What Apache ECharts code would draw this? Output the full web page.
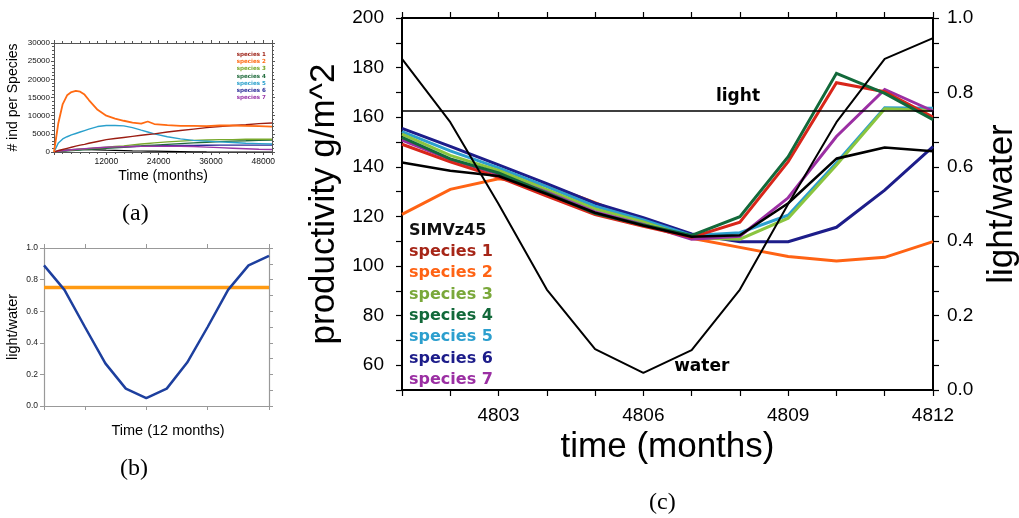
<!DOCTYPE html>
<html>
<head>
<meta charset="utf-8">
<script src="https://cdn.jsdelivr.net/npm/echarts@6/dist/echarts.min.js"></script>
<style>
  html, body { margin: 0; padding: 0; background: #fff; }
  #chart { width: 1019px; height: 518px; }
</style>
</head>
<body>
<div id="chart"></div>
<script>
// ---------- (a) population per species over the long run ----------
const monthsA = [0, 1000, 2000, 3000, 4000, 5000, 6000, 7000, 8000, 10000, 12000, 14000, 16000,
  18000, 20000, 21500, 23000, 26000, 29000, 32000, 35000, 38000, 41000, 44000, 47000, 50000];
const popSpecies1 = [0, 400, 700, 1000, 1300, 1600, 1900, 2100, 2400, 2900, 3400, 3700, 4000,
  4300, 4600, 4800, 5000, 5500, 5900, 6300, 6700, 7000, 7300, 7500, 7800, 8000];
const popSpecies2 = [0, 8000, 13200, 15600, 16500, 16800, 16600, 15800, 14300, 11600, 10000, 9200, 8600,
  8100, 7800, 8400, 7700, 7400, 7200, 7200, 7100, 7300, 7300, 7200, 7100, 7000];
const popSpecies3 = [0, 150, 300, 450, 550, 650, 750, 850, 950, 1100, 1300, 1500, 1700,
  1950, 2200, 2350, 2500, 2800, 3000, 3200, 3300, 3400, 3400, 3500, 3500, 3500];
const popSpecies4 = [0, 100, 200, 300, 400, 500, 550, 650, 700, 850, 1000, 1150, 1300,
  1500, 1650, 1800, 1900, 2100, 2300, 2500, 2700, 2850, 3000, 3100, 3250, 3300];
const popSpecies5 = [0, 2500, 3600, 4200, 4700, 5100, 5500, 5900, 6300, 7000, 7300, 7300, 7200,
  6700, 6000, 5500, 5000, 4200, 3600, 3200, 3000, 2800, 2600, 2400, 2300, 2200];
const popSpecies6 = [0, 150, 300, 400, 500, 600, 700, 800, 850, 1050, 1200, 1300, 1400,
  1500, 1600, 1650, 1700, 1750, 1800, 1800, 1850, 1900, 1900, 1900, 1900, 1900];
const popSpecies7 = [0, 200, 350, 500, 600, 700, 800, 900, 1000, 1150, 1300, 1400, 1450,
  1500, 1550, 1600, 1600, 1600, 1600, 1500, 1350, 1200, 1050, 900, 750, 700];
const popOther = [0, 300, 450, 550, 650, 700, 700, 680, 650, 580, 500, 450, 400,
  330, 280, 250, 220, 160, 110, 60, 20, 0, 0, 0, 0, 0];

// ---------- (b) yearly forcing ----------
const monthsB = [4801, 4802, 4803, 4804, 4805, 4806, 4807, 4808, 4809, 4810, 4811, 4812];
const waterB = [0.89, 0.735, 0.50, 0.27, 0.11, 0.05, 0.11, 0.275, 0.50, 0.735, 0.89, 0.95];
const lightB = [0.75, 0.75, 0.75, 0.75, 0.75, 0.75, 0.75, 0.75, 0.75, 0.75, 0.75, 0.75];

// ---------- (c) productivity over one year ----------
const monthsC = [4801, 4802, 4803, 4804, 4805, 4806, 4807, 4808, 4809, 4810, 4811, 4812];
const prodSIMV = [141.7, 138.4, 136.3, 129.0, 121.5, 116.3, 111.8, 112.4, 125.3, 143.3, 147.8, 146.3];
const prodSpecies1 = [149.1, 142.0, 135.8, 128.2, 120.7, 116.0, 111.6, 117.7, 142.1, 173.9, 170.3, 160.0];
const prodSpecies2 = [120.8, 130.9, 135.2, 132.7, 125.5, 117.6, 111.2, 107.5, 103.8, 102.0, 103.5, 109.8];
const prodSpecies3 = [153.2, 144.6, 138.5, 130.8, 123.0, 117.8, 111.3, 110.8, 119.3, 140.7, 163.4, 162.8];
const prodSpecies4 = [151.9, 143.2, 137.5, 129.4, 121.2, 116.5, 112.3, 119.9, 144.1, 177.7, 169.6, 159.0];
const prodSpecies5 = [154.2, 146.4, 139.6, 132.0, 124.1, 118.6, 112.3, 113.4, 120.5, 141.6, 163.8, 163.6];
const prodSpecies6 = [155.5, 148.2, 140.8, 133.2, 125.3, 119.5, 112.9, 109.8, 109.8, 115.6, 130.6, 148.1];
const prodSpecies7 = [150.8, 143.0, 137.0, 129.8, 121.8, 116.8, 110.8, 112.0, 127.5, 152.2, 171.2, 162.5];
const waterC = [0.89, 0.72, 0.50, 0.27, 0.11, 0.046, 0.107, 0.27, 0.50, 0.72, 0.89, 0.946];
const lightC = [0.75, 0.75, 0.75, 0.75, 0.75, 0.75, 0.75, 0.75, 0.75, 0.75, 0.75, 0.75];

const speciesNames = ['species 1', 'species 2', 'species 3', 'species 4', 'species 5', 'species 6', 'species 7'];
const colorsA = ['#9b1d12', '#ff6a12', '#78a82c', '#1f6b3b', '#2aa0cc', '#2b2b98', '#9a36a8'];
const colorsC = ['#d8261a', '#ff6314', '#8bc53f', '#12693a', '#2c9fce', '#1d1d8a', '#9b2fa3'];
const legendColorsC = ['#a62618', '#ff6314', '#7aa83a', '#12693a', '#2c9fce', '#1d1d8a', '#9b2fa3'];

const zip = (xs, ys) => xs.map((x, i) => [x, ys[i]]);
const SANS = 'Liberation Sans';
const LEGEND_FONT = 'DejaVu Sans';

const chart = echarts.init(document.getElementById('chart'), null, { renderer: 'canvas' });

// frame helper: a bottom/left axis plus matching top/right tick-only axes
function frameAxis(base, extra) {
  return Object.assign({}, base, extra);
}

const greyA = '#555';
const greyB = '#999';

const xBaseA = { type: 'value', gridIndex: 0, min: 0, max: 50000, interval: 12000, splitLine: { show: false },
  axisLine: { onZero: false, lineStyle: { color: greyA, width: 1 } },
  axisTick: { show: true, length: 3, lineStyle: { color: greyA } },
  minorTick: { show: true, splitNumber: 6, length: 2, lineStyle: { color: greyA } } };
const yBaseA = { type: 'value', gridIndex: 0, min: 0, max: 30000, interval: 5000, splitLine: { show: false },
  axisLine: { onZero: false, lineStyle: { color: greyA, width: 1 } },
  axisTick: { show: true, length: 3, lineStyle: { color: greyA } },
  minorTick: { show: true, splitNumber: 5, length: 2, lineStyle: { color: greyA } } };

const xBaseB = { type: 'value', gridIndex: 1, min: 4801, max: 4812, splitLine: { show: false },
  axisLine: { onZero: false, lineStyle: { color: greyB, width: 1.2 } },
  axisTick: { show: true, length: 4, customValues: [4801, 4803, 4806, 4809, 4812], lineStyle: { color: greyB } },
  axisLabel: { show: false } };
const yBaseB = { type: 'value', gridIndex: 1, min: 0, max: 1, interval: 0.2, splitLine: { show: false },
  axisLine: { onZero: false, lineStyle: { color: greyB, width: 1.2 } },
  axisTick: { show: true, length: 4, lineStyle: { color: greyB } } };

const xBaseC = { type: 'value', gridIndex: 2, min: 4801, max: 4812, interval: 1, splitLine: { show: false },
  axisLine: { onZero: false, lineStyle: { color: '#000', width: 2 } },
  axisTick: { show: true, length: 6, lineStyle: { color: '#000', width: 1.2 } } };

const option = {
  animation: false,
  backgroundColor: '#fff',
  textStyle: { fontFamily: SANS },
  grid: [
    { left: 54, top: 43, width: 218, height: 109, outerBoundsMode: 'none' },
    { left: 44, top: 248, width: 225, height: 158, outerBoundsMode: 'none' },
    { left: 402, top: 18, width: 531, height: 372, outerBoundsMode: 'none' }
  ],
  xAxis: [
    frameAxis(xBaseA, {
      position: 'bottom',
      axisLabel: { fontSize: 8.5, color: '#111', margin: 5,
        formatter: v => (v > 0 && v <= 48000) ? String(v) : '' },
      name: 'Time (months)', nameLocation: 'middle', nameGap: 17,
      nameTextStyle: { fontSize: 14, color: '#000' }
    }),
    frameAxis(xBaseA, { position: 'top', axisLabel: { show: false } }),
    frameAxis(xBaseB, {
      position: 'bottom',
      name: 'Time (12 months)', nameLocation: 'middle', nameGap: 17,
      nameTextStyle: { fontSize: 14.5, color: '#000', padding: [0, 0, 0, 23] }
    }),
    frameAxis(xBaseB, { position: 'top' }),
    frameAxis(xBaseC, {
      position: 'bottom',
      axisLabel: { fontSize: 19, color: '#000', margin: 16,
        formatter: v => (v % 3 === 0) ? String(v) : '' },
      name: 'time (months)', nameLocation: 'middle', nameGap: 40,
      nameTextStyle: { fontSize: 35, color: '#000' }
    }),
    frameAxis(xBaseC, { position: 'top', axisLabel: { show: false } })
  ],
  yAxis: [
    frameAxis(yBaseA, {
      position: 'left',
      axisLabel: { fontSize: 8, color: '#111', margin: 4, formatter: v => String(v) },
      name: '# ind per Species', nameLocation: 'middle', nameGap: 34, nameRotate: 90,
      nameTextStyle: { fontSize: 14, color: '#000' }
    }),
    frameAxis(yBaseA, { position: 'right', axisLabel: { show: false } }),
    frameAxis(yBaseB, {
      position: 'left',
      axisLabel: { fontSize: 8.5, color: '#222', margin: 6, formatter: v => v.toFixed(1) },
      name: 'light/water', nameLocation: 'middle', nameGap: 24, nameRotate: 90,
      nameTextStyle: { fontSize: 14.5, color: '#000' }
    }),
    frameAxis(yBaseB, { position: 'right', axisLabel: { show: false },
      minorTick: { show: true, splitNumber: 2, length: 4, lineStyle: { color: greyB } } }),
    {
      type: 'value', gridIndex: 2, position: 'left', min: 50, max: 200, interval: 10,
      splitLine: { show: false },
      axisLine: { onZero: false, lineStyle: { color: '#000', width: 2 } },
      axisTick: { show: true, length: 6, lineStyle: { color: '#000', width: 1.2 } },
      axisLabel: { fontSize: 19, color: '#000', margin: 18,
        formatter: v => (v % 20 === 0 && v > 50) ? String(v) : '' },
      name: 'productivity g/m^2', nameLocation: 'middle', nameGap: 37, nameRotate: 90,
      nameTextStyle: { fontSize: 35, color: '#000' }
    },
    {
      type: 'value', gridIndex: 2, position: 'right', min: 0, max: 1, interval: 0.2,
      splitLine: { show: false },
      axisLine: { onZero: false, lineStyle: { color: '#000', width: 2 } },
      axisTick: { show: true, length: 6, lineStyle: { color: '#000', width: 1.2 } },
      minorTick: { show: true, splitNumber: 3, length: 6, lineStyle: { color: '#000', width: 1.2 } },
      axisLabel: { fontSize: 19, color: '#000', margin: 14, formatter: v => v.toFixed(1) },
      name: 'light/water', nameLocation: 'middle', nameGap: 52, nameRotate: 90,
      nameTextStyle: { fontSize: 35, color: '#000' }
    }
  ],
  legend: [
    {
      left: 399, top: 215, orient: 'vertical', itemGap: 0, itemWidth: 0, itemHeight: 0,
      icon: 'rect', selectedMode: false,
      textStyle: { fontFamily: LEGEND_FONT, fontWeight: 'bold', fontSize: 16, lineHeight: 21.3, color: '#000' },
      data: [{ name: 'SIMVz45', textStyle: { color: '#111' } }].concat(
        speciesNames.map((n, i) => ({ name: n, textStyle: { color: legendColorsC[i] } })))
    },
    {
      right: 743, top: 45.5, orient: 'vertical', align: 'right', itemGap: 0, itemWidth: 0, itemHeight: 0,
      icon: 'rect', selectedMode: false,
      textStyle: { fontFamily: LEGEND_FONT, fontWeight: 'bold', fontSize: 5.6, lineHeight: 7.3 },
      data: speciesNames.map((n, i) => ({ name: n, textStyle: { color: colorsA[i] } }))
    }
  ],
  graphic: [
    { type: 'text', left: 122, top: 202, style: { text: '(a)', font: '24px "Liberation Serif"', fill: '#000' } },
    { type: 'text', left: 120, top: 457, style: { text: '(b)', font: '24px "Liberation Serif"', fill: '#000' } },
    { type: 'text', left: 649, top: 491, style: { text: '(c)', font: '24px "Liberation Serif"', fill: '#000' } }
  ],
  series: []
};

// (a) population lines
const popSeries = [popSpecies1, popSpecies2, popSpecies3, popSpecies4, popSpecies5, popSpecies6, popSpecies7];
option.series.push({
  name: 'SIMVz45', type: 'line', xAxisIndex: 0, yAxisIndex: 0, data: zip(monthsA, popOther),
  showSymbol: false, silent: true, lineStyle: { color: '#000', width: 1.2 }, z: 2
});
[5, 3, 2, 6, 4, 0, 1].forEach(i => {
  option.series.push({
    name: speciesNames[i], type: 'line', xAxisIndex: 0, yAxisIndex: 0, data: zip(monthsA, popSeries[i]),
    showSymbol: false, silent: true, color: colorsA[i],
    lineStyle: { color: colorsA[i], width: i === 1 ? 1.8 : 1.4 }, z: 3
  });
});

// (b) forcing
option.series.push({
  name: 'light', type: 'line', xAxisIndex: 2, yAxisIndex: 2, data: zip(monthsB, lightB),
  showSymbol: false, silent: true, lineStyle: { color: '#ff9a12', width: 3.5 }, z: 3
});
option.series.push({
  name: 'water', type: 'line', xAxisIndex: 2, yAxisIndex: 2, data: zip(monthsB, waterB),
  showSymbol: false, silent: true, lineStyle: { color: '#1d3f9e', width: 2.5 }, z: 4
});

// (c) productivity, drawn back to front
const prodSeries = [prodSpecies1, prodSpecies2, prodSpecies3, prodSpecies4, prodSpecies5, prodSpecies6, prodSpecies7];
[1, 5, 4, 2, 6, 0, 3].forEach(i => {
  option.series.push({
    name: speciesNames[i], type: 'line', xAxisIndex: 4, yAxisIndex: 4, data: zip(monthsC, prodSeries[i]),
    showSymbol: false, silent: true, color: colorsC[i],
    lineStyle: { color: colorsC[i], width: 3, join: 'miter' }, z: 3
  });
});
option.series.push({
  name: 'SIMVz45', type: 'line', xAxisIndex: 4, yAxisIndex: 4, data: zip(monthsC, prodSIMV),
  showSymbol: false, silent: true, color: '#000', lineStyle: { color: '#000', width: 2.6 }, z: 4
});
option.series.push({
  name: 'water', type: 'line', xAxisIndex: 4, yAxisIndex: 5, data: zip(monthsC, waterC),
  showSymbol: false, silent: true, lineStyle: { color: '#000', width: 2 }, z: 5,
  markPoint: {
    symbol: 'circle', symbolSize: 0, silent: true,
    label: { show: true, position: 'inside', formatter: 'water', fontFamily: LEGEND_FONT,
      fontWeight: 'bold', fontSize: 17, color: '#000' },
    data: [{ coord: [4807.21, 0.062] }]
  }
});
option.series.push({
  name: 'light', type: 'line', xAxisIndex: 4, yAxisIndex: 5, data: zip(monthsC, lightC),
  showSymbol: false, silent: true, lineStyle: { color: '#000', width: 1.6 }, z: 5,
  markPoint: {
    symbol: 'circle', symbolSize: 0, silent: true,
    label: { show: true, position: 'inside', formatter: 'light', fontFamily: LEGEND_FONT,
      fontWeight: 'bold', fontSize: 17, color: '#000' },
    data: [{ coord: [4807.96, 0.79] }]
  }
});

chart.setOption(option);
</script>
</body>
</html>
